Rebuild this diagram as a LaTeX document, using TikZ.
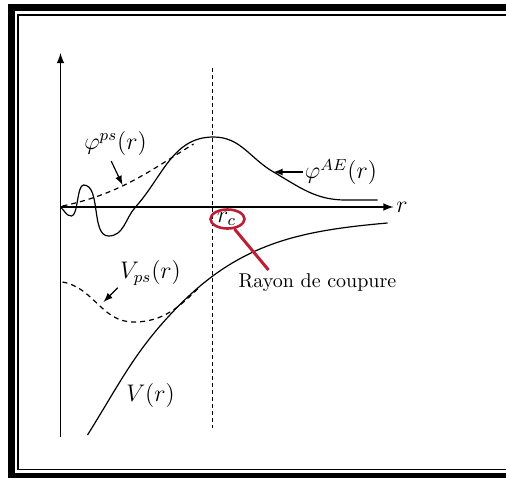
\documentclass[tikz,border=0pt]{standalone}
\usepackage{amsmath, amssymb}
\usepackage{tikz}
\usepackage{xcolor}
\usetikzlibrary{shapes.geometric}

\definecolor{ringred}{RGB}{190,30,50}

\begin{document}
\begin{tikzpicture}[x=0.5pt, y=0.5pt,
    curve/.style={line width=0.6pt},
    pseudo/.style={line width=0.6pt, dash pattern=on 2.5pt off 2pt},
    lbl/.style={font=\large, inner sep=1pt},
    pointer/.style={-latex, line width=0.6pt}]
    \useasboundingbox (-60.5,-270) rectangle (445.5,207);
    \clip (-60.5,-270) rectangle (445.5,207);
    % double frame
    \draw[line width=3.5pt] (-49,199.5) rectangle (460,-269.5);
    \draw[line width=0.8pt] (-42.5,192) rectangle (455,-262.5);
    % axes
    \draw[-latex, line width=0.75pt] (0,-230) -- (0,154);
    \draw[-latex, line width=0.75pt] (0,0) -- (333,0) node[right, lbl] (r) {$r$};
    \draw[line width=0.6pt, dash pattern=on 2pt off 1.5pt] (152,139) -- (152,-221);
    % wave functions
    \draw[curve] (0,0) to[out=-40,in=180] (11,-9) to[out=0,in=180,looseness=0.5] (23,22)
        to[out=0,in=180,looseness=0.8] (48,-29) to[out=0,in=228] (75,0)
        to[out=48,in=180] (153,70) to[out=0,in=150] (213,35)
        to[out=-30,in=180] (285,7) -- (317,7);
    \draw[pseudo] (2,1) to[out=12,in=212] (133,63);
    % potentials
    \draw[curve] (27,-228) to[out=58,in=225] (120,-97) to[out=45,in=185] (327,-16);
    \draw[pseudo] (2,-75) to[out=-10,in=180] (73,-115) to[out=0,in=225] (140,-79);
    % labels
    \node[lbl] (phips) at (55,64) {$\varphi^{ps}(r)$};
    \coordinate (phipsend) at (62,22);
    \draw[pointer, shorten <=2pt] ([xshift=-3pt]phips.south) -- (phipsend);
    \node[lbl, anchor=west] (phiae) at (242,35) {$\varphi^{AE}(r)$};
    \coordinate (phiaeend) at (213,35);
    \draw[pointer] (phiae.west) -- (phiaeend);
    \node[lbl] (vps) at (90,-66) {$V_{ps}(r)$};
    \coordinate (vpsend) at (43,-95);
    \draw[pointer] (vps.south west) -- (vpsend);
    \node[lbl] (v) at (90,-188) {$V(r)$};
    % cut-off radius
    \node[lbl] (rc) at (166,-12) {$r_c$};
    \node[ellipse, draw=ringred, line width=1.3pt, minimum width=17pt, minimum height=9.5pt, inner sep=0pt] (ring) at (167,-12) {};
    \coordinate (cut) at (208,-63);
    \draw[ringred, line width=1.5pt] (ring.-55) -- (cut);
    \node (rayon) at (257,-76) {Rayon de coupure};
\end{tikzpicture}
\end{document}
